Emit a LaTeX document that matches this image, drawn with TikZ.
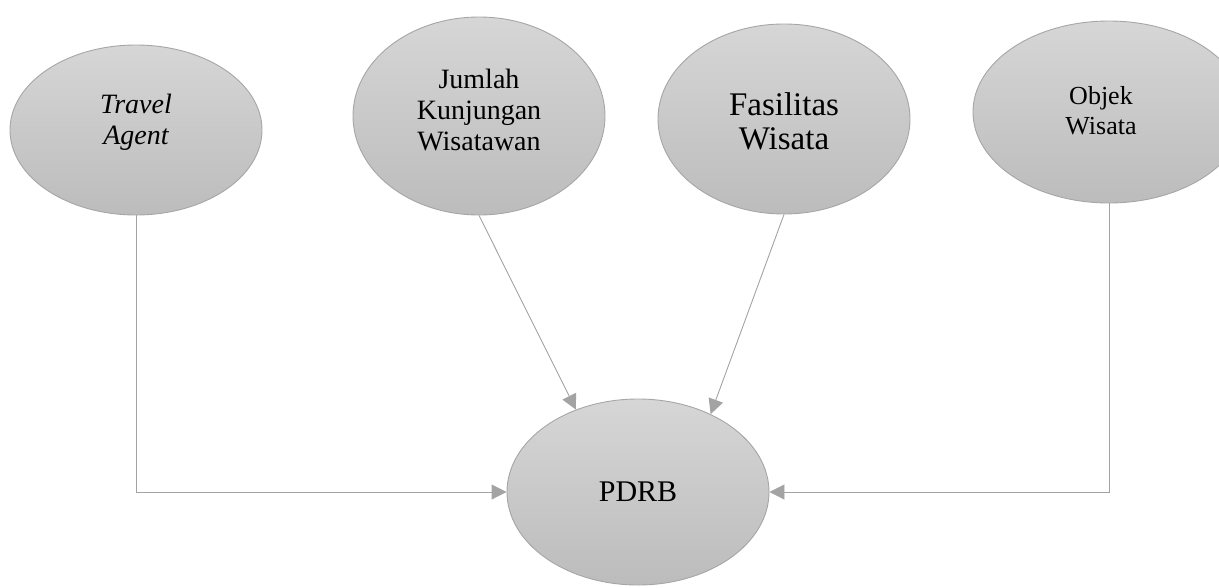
\documentclass[tikz,border=0pt]{standalone}
\usepackage{fontspec}
\setmainfont{Liberation Serif}
\usetikzlibrary{shapes.geometric,arrows.meta}
\definecolor{edgegray}{HTML}{A6A6A6}
\definecolor{filltop}{HTML}{D6D6D6}
\definecolor{fillbot}{HTML}{BCBCBC}
\definecolor{linkgray}{HTML}{A3A3A3}
\begin{document}
\begin{tikzpicture}[x=1pt,y=-1pt,
  bubble/.style={ellipse, draw=edgegray, line width=0.9pt, top color=filltop, bottom color=fillbot, inner sep=0pt},
  caption/.style={align=center, inner sep=0pt, text=black},
  link/.style={draw=linkgray, line width=0.9pt, -{Triangle[length=15pt,width=15pt]}}
]
\useasboundingbox (0,0) rectangle (1219,587);

% factor bubbles
\node[bubble, minimum width=252pt, minimum height=170pt] (ta) at (136,130) {};
\node[bubble, minimum width=252pt, minimum height=198pt] (jk) at (479,116) {};
\node[bubble, minimum width=252pt, minimum height=190pt] (fw) at (784,119) {};
\node[bubble, minimum width=272pt, minimum height=182pt] (ow) at (1109,112) {};
\node[bubble, minimum width=262pt, minimum height=186pt] (pd) at (638,492) {};

% labels
\node[caption, font=\fontsize{28}{31}\selectfont\itshape] (tat) at (136,122) {Travel\\Agent};
\node[caption, font=\fontsize{28}{31}\selectfont] (jkt) at (479,110) {Jumlah\\Kunjungan\\Wisatawan};
\node[caption, font=\fontsize{33}{34}\selectfont] (fwt) at (784,121) {Fasilitas\\Wisata};
\node[caption, font=\fontsize{26}{30}\selectfont] (owt) at (1101,111) {Objek\\Wisata};
\node[caption, font=\fontsize{30}{34}\selectfont] (pdt) at (638,492) {PDRB};

% connectors
\draw[link] (ta.south) |- (pd.west);
\draw[link] (ow.south) |- (pd.east);
\draw[link] (jk.south) -- (pd.127);
\draw[link] (fw.south) -- (pd.47);
\end{tikzpicture}
\end{document}
